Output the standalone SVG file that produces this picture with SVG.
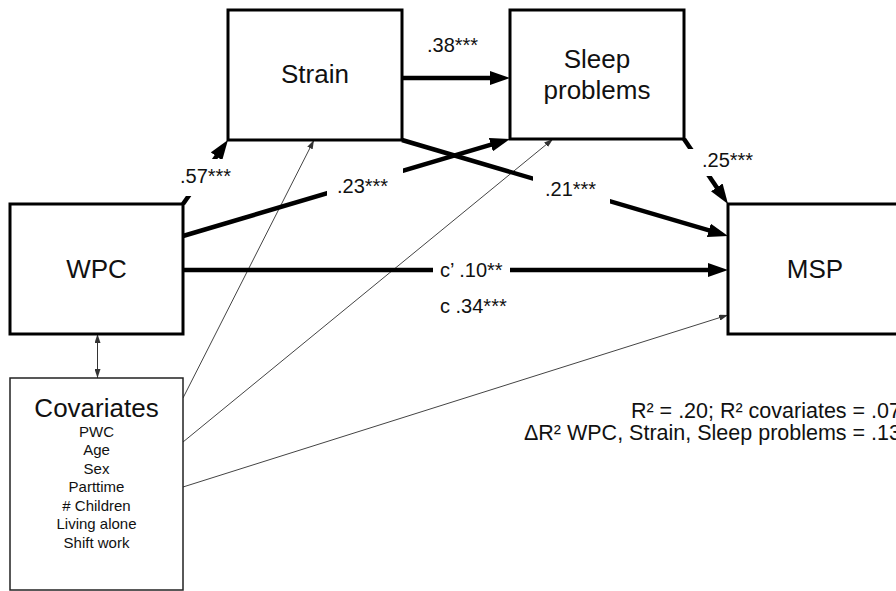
<svg xmlns="http://www.w3.org/2000/svg" width="896" height="591" viewBox="0 0 896 591">
  <defs>
    <style>
      .box { fill: #fff; stroke: #000; stroke-width: 3; }
      .cov { fill: #fff; stroke: #222; stroke-width: 1.5; }
      .path { fill: none; stroke: #000; stroke-width: 4.5; marker-end: url(#bigHead); }
      .thin { fill: none; stroke: #444; stroke-width: 1; marker-end: url(#smallHead); }
      .node { font-family: "Liberation Sans", Arial, sans-serif; font-size: 26px; fill: #111; text-anchor: middle; }
      .lbl { font-family: "Liberation Sans", Arial, sans-serif; font-size: 20px; fill: #111; }
      .item { font-family: "Liberation Sans", Arial, sans-serif; font-size: 15px; fill: #111; text-anchor: middle; }
      .fit { font-family: "Liberation Sans", Arial, sans-serif; font-size: 21.5px; fill: #111; text-anchor: end; }
      .mask { fill: #fff; }
    </style>
    <marker id="bigHead" markerUnits="userSpaceOnUse" viewBox="0 0 20 14" markerWidth="20" markerHeight="14" refX="10" refY="7" orient="auto">
      <path d="M0,0 L20,7 L0,14 z" fill="#000"/>
    </marker>
    <marker id="smallHead" markerUnits="userSpaceOnUse" viewBox="0 0 9 6" markerWidth="9" markerHeight="6" refX="9" refY="3" orient="auto">
      <path d="M0,0 L9,3 L0,6 z" fill="#333"/>
    </marker>
    <marker id="smallTail" markerUnits="userSpaceOnUse" viewBox="0 0 9 6" markerWidth="9" markerHeight="6" refX="0" refY="3" orient="auto">
      <path d="M9,0 L0,3 L9,6 z" fill="#333"/>
    </marker>
  </defs>

  <!-- connectors -->
  <g id="connectors">
    <!-- covariate paths -->
    <line class="thin" x1="183" y1="398" x2="314" y2="140"/>
    <line class="thin" x1="183" y1="442" x2="553" y2="139"/>
    <line class="thin" x1="183" y1="487" x2="728" y2="315"/>
    <line x1="97.5" y1="334" x2="97.5" y2="378" stroke="#333" stroke-width="1" marker-start="url(#smallTail)" marker-end="url(#smallHead)"/>

    <!-- structural paths -->
    <line class="path" x1="183" y1="204" x2="222.2" y2="148.2"/>
    <line class="path" x1="402" y1="78" x2="500" y2="78"/>
    <line class="path" x1="402" y1="140" x2="718.4" y2="233.2"/>
    <line class="path" x1="183" y1="236" x2="500.4" y2="141.8"/>
    <line class="path" x1="684" y1="139" x2="722.4" y2="195.7"/>
    <line class="path" x1="183" y1="270" x2="718" y2="270"/>

    <!-- coefficient labels, set on white so the paths break around them -->
    <rect class="mask" x="176" y="159" width="60" height="37"/>
    <text class="lbl" x="180" y="183">.57***</text>
    <rect class="mask" x="327" y="168" width="76" height="30"/>
    <text class="lbl" x="337" y="193">.23***</text>
    <text class="lbl" x="427" y="52">.38***</text>
    <rect class="mask" x="533" y="174" width="77" height="30"/>
    <text class="lbl" x="545" y="196">.21***</text>
    <rect class="mask" x="688" y="149" width="70" height="27"/>
    <text class="lbl" x="702" y="167">.25***</text>
    <rect class="mask" x="433" y="258" width="77" height="24"/>
    <text class="lbl" x="440" y="277">c’ .10**</text>
    <text class="lbl" x="440" y="313">c .34***</text>
  </g>

  <g id="strain">
    <rect class="box" x="228" y="10" width="174" height="130"/>
    <text class="node" x="315" y="83">Strain</text>
  </g>

  <g id="sleep-problems">
    <rect class="box" x="510" y="10" width="174" height="129"/>
    <text class="node" x="597" y="68">Sleep</text>
    <text class="node" x="597" y="99">problems</text>
  </g>

  <g id="wpc">
    <rect class="box" x="10" y="204" width="173" height="130"/>
    <text class="node" x="96.5" y="278">WPC</text>
  </g>

  <g id="msp">
    <rect class="box" x="728" y="204" width="175" height="130"/>
    <text class="node" x="815" y="278">MSP</text>
  </g>

  <g id="covariates">
    <rect class="cov" x="10" y="378" width="173" height="212"/>
    <text class="node" x="96.5" y="417" font-size="21">Covariates</text>
    <text class="item" x="96.5" y="437">PWC</text>
    <text class="item" x="96.5" y="455">Age</text>
    <text class="item" x="96.5" y="474">Sex</text>
    <text class="item" x="96.5" y="492">Parttime</text>
    <text class="item" x="96.5" y="511"># Children</text>
    <text class="item" x="96.5" y="529">Living alone</text>
    <text class="item" x="96.5" y="548">Shift work</text>
  </g>

  <g id="model-fit">
    <text class="fit" x="901" y="418">R² = .20; R² covariates = .07</text>
    <text class="fit" x="901" y="440">ΔR² WPC, Strain, Sleep problems = .13</text>
  </g>
</svg>
